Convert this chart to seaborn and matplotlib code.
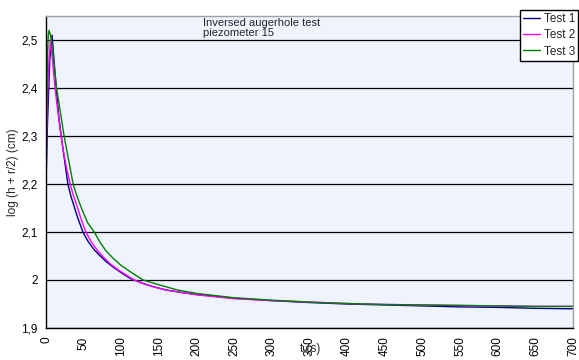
import matplotlib
matplotlib.use("Agg")
import matplotlib.pyplot as plt
import pandas as pd
import seaborn as sns
from matplotlib.ticker import FuncFormatter, MultipleLocator

# values
t_test1 = [0, 2, 5, 8, 11, 14, 17, 21, 25, 29, 33, 37, 42, 49, 56, 64, 72, 80,
           90, 100, 112, 125, 140, 160, 180, 200, 250, 300, 350, 400, 450,
           500, 550, 600, 650, 700]
y_test1 = [2.20, 2.33, 2.46, 2.51, 2.45, 2.39, 2.34, 2.29, 2.245, 2.20, 2.175,
           2.155, 2.13, 2.10, 2.08, 2.063, 2.05, 2.038, 2.026, 2.015, 2.003,
           1.995, 1.987, 1.979, 1.974, 1.970, 1.962, 1.957, 1.953, 1.950,
           1.948, 1.946, 1.944, 1.943, 1.941, 1.940]

t_test2 = [0, 2, 4, 6, 9, 12, 15, 19, 23, 27, 32, 36, 41, 47, 53, 60, 68, 76,
           85, 95, 105, 117, 130, 145, 160, 180, 200, 250, 300, 350, 400, 450,
           500, 550, 600, 650, 700]
y_test2 = [2.25, 2.38, 2.46, 2.50, 2.45, 2.40, 2.36, 2.31, 2.27, 2.235, 2.20,
           2.178, 2.155, 2.125, 2.10, 2.08, 2.062, 2.048, 2.034, 2.022, 2.012,
           2.00, 1.992, 1.985, 1.979, 1.974, 1.969, 1.961, 1.957, 1.954,
           1.951, 1.949, 1.948, 1.947, 1.946, 1.945, 1.945]

t_test3 = [0, 1, 2, 3, 4, 6, 8, 10, 14, 19, 24, 30, 36, 41, 47, 55, 64, 72,
           80, 90, 100, 114, 129, 150, 175, 200, 250, 300, 350, 400, 450, 500,
           550, 600, 650, 700]
y_test3 = [2.25, 2.38, 2.47, 2.51, 2.52, 2.51, 2.49, 2.46, 2.40, 2.35, 2.30,
           2.25, 2.20, 2.175, 2.15, 2.12, 2.10, 2.078, 2.06, 2.044, 2.03,
           2.015, 2.00, 1.99, 1.979, 1.972, 1.963, 1.958, 1.954, 1.951, 1.949,
           1.948, 1.947, 1.946, 1.945, 1.945]

series_names = ["Test 1", "Test 2", "Test 3"]
series_colors = ["#000080", "#ff00ff", "#008000"]

df = pd.concat([
    pd.DataFrame({"t": t_test1, "v": y_test1, "test": "Test 1"}),
    pd.DataFrame({"t": t_test2, "v": y_test2, "test": "Test 2"}),
    pd.DataFrame({"t": t_test3, "v": y_test3, "test": "Test 3"}),
])

sns.set_style("white")
plt.rcParams["font.family"] = ["Liberation Sans", "DejaVu Sans"]

fig = plt.figure(figsize=(5.79, 3.6), dpi=100)
ax = fig.add_axes([0.0795, 0.0889, 0.9101, 0.8667])
ax.set_facecolor("#eef3fe")

sns.lineplot(data=df, x="t", y="v", hue="test", hue_order=series_names,
             palette=dict(zip(series_names, series_colors)), estimator=None,
             sort=False, linewidth=1.0, ax=ax, legend=False)

ax.set_xlim(0, 700)
ax.set_ylim(1.9, 2.55)
ax.xaxis.set_major_locator(MultipleLocator(50))
ax.yaxis.set_major_locator(MultipleLocator(0.1))
ax.yaxis.set_major_formatter(
    FuncFormatter(lambda v, p: f"{round(v, 1):g}".replace(".", ",")))
ax.grid(axis="y", color="black", linewidth=0.9)
ax.set_axisbelow(True)

for side in ["left", "bottom"]:
    ax.spines[side].set_color("black")
    ax.spines[side].set_linewidth(1.0)
for side in ["top", "right"]:
    ax.spines[side].set_color("#a0a0a0")
    ax.spines[side].set_linewidth(1.0)

ax.tick_params(axis="both", direction="out", length=4, width=1, colors="black",
               labelsize=9)
ax.tick_params(axis="x", labelrotation=90, labelsize=8.5, pad=2)
ax.tick_params(axis="y", labelsize=8.5, pad=2)
ax.set_xlabel("")
ax.set_ylabel("log (h + r/2) (cm)", fontsize=8.5)
ax.yaxis.set_label_coords(-0.052, 0.5)

fig.text(0.536, 0.015, "t (s)", fontsize=8.5, ha="center", va="bottom")
ax.text(0.298, 0.995, "Inversed augerhole test\npiezometer 15",
        transform=ax.transAxes, fontsize=8, ha="left", va="top",
        linespacing=1.05)

handles = [plt.Line2D([], [], color=c, linewidth=1.0) for c in series_colors]
fig.legend(handles, series_names, loc="upper right",
           bbox_to_anchor=(0.999, 0.973), fontsize=8.5, frameon=True,
           fancybox=False, edgecolor="black", framealpha=1, handlelength=1.4,
           handletextpad=0.3, borderpad=0.3, labelspacing=0.35,
           borderaxespad=0)

fig.savefig("out.png", dpi=100)
